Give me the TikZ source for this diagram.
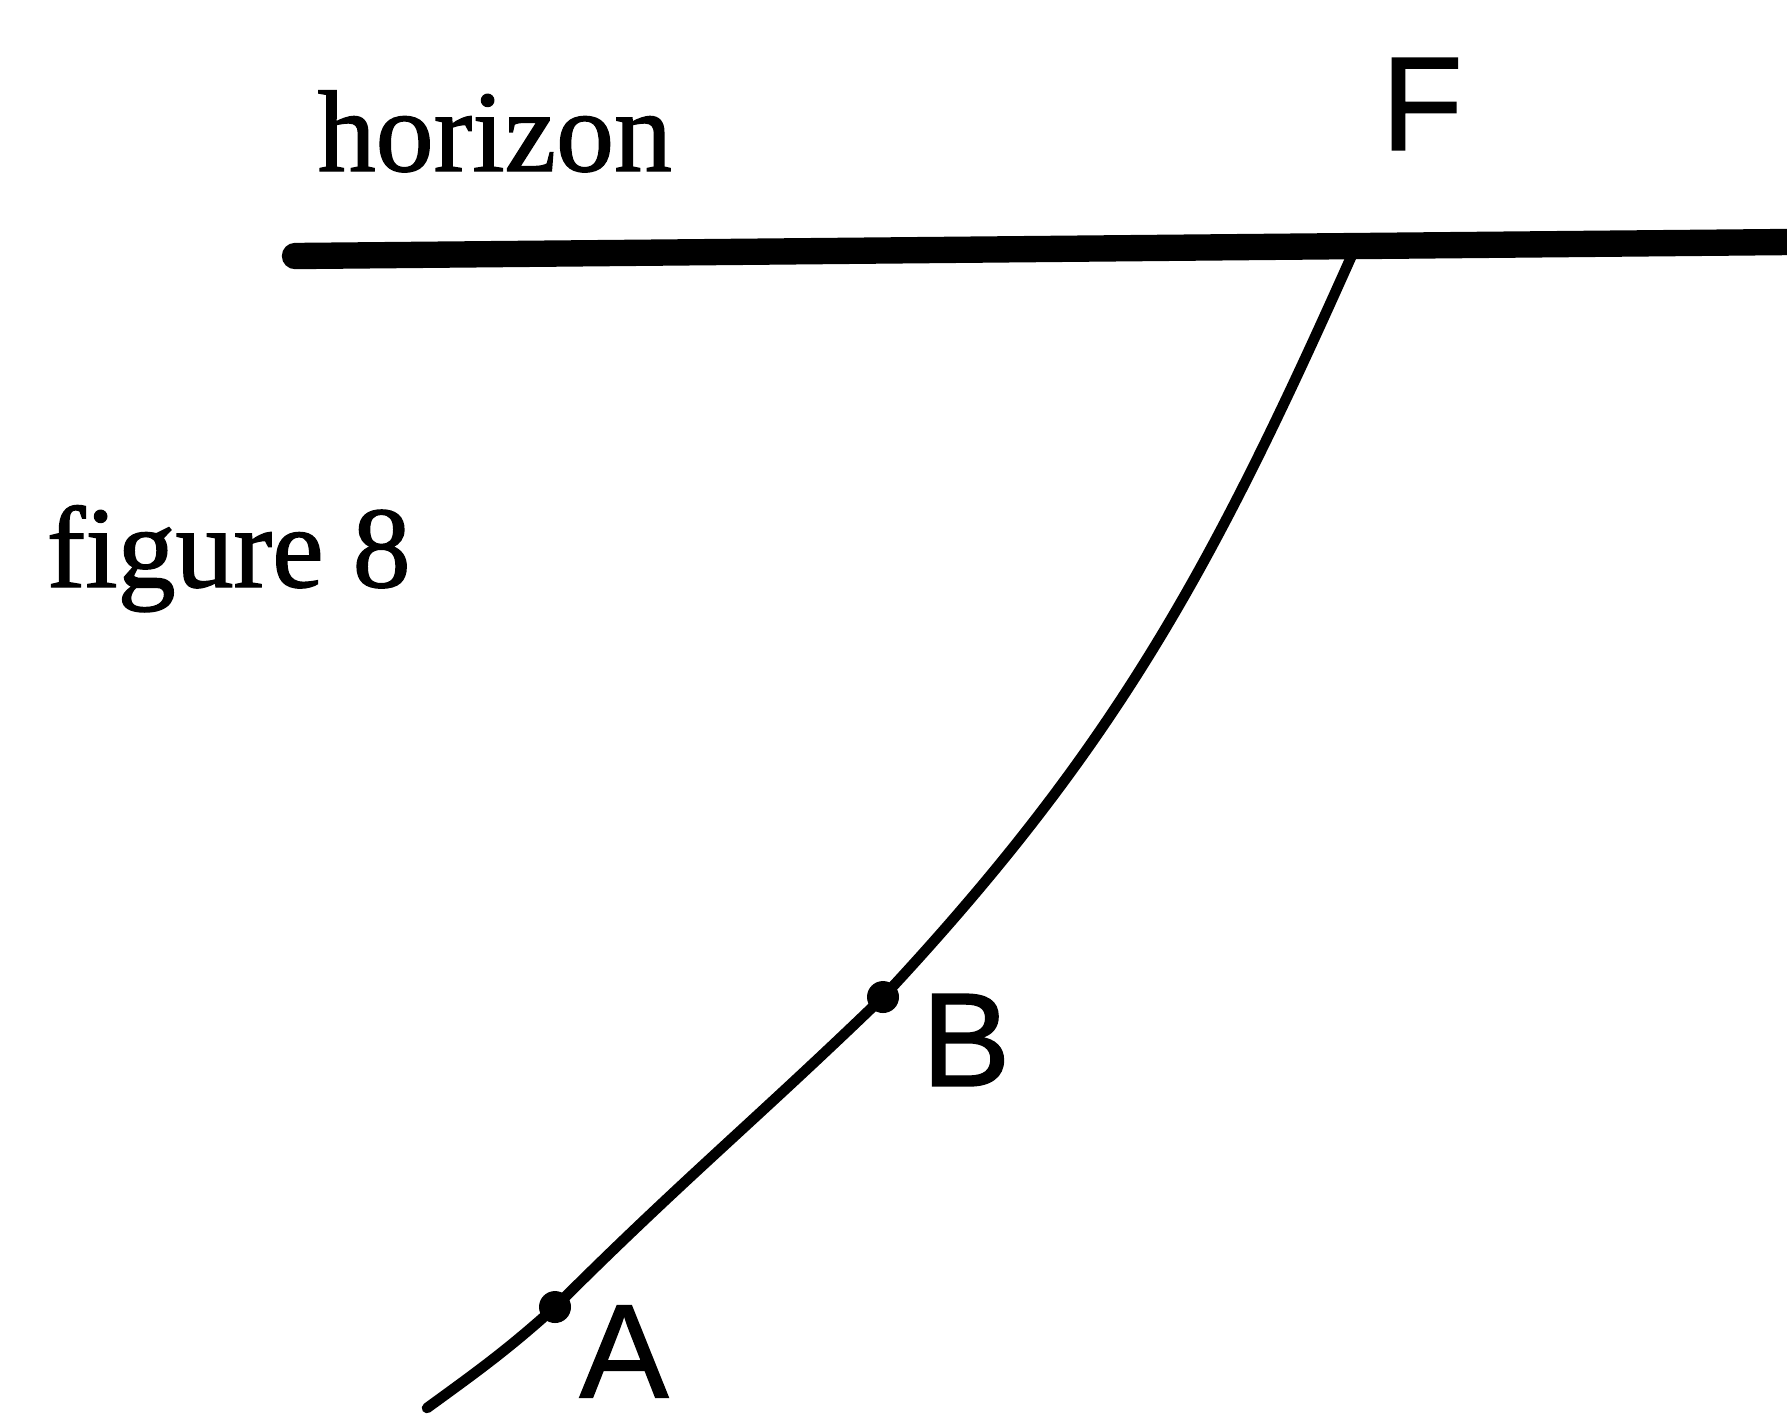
\documentclass[tikz,border=0pt]{standalone}
\usepackage{fontspec}
\newfontfamily\wordfont{Liberation Serif}[FakeBold=1.2]
\newfontfamily\letterfont{Liberation Sans}[FakeBold=1]
\usetikzlibrary{positioning}

\begin{document}
\begin{tikzpicture}[
    word/.style={font=\wordfont\fontsize{33}{40}\selectfont, inner sep=0pt, anchor=base west},
    letter/.style={font=\letterfont\fontsize{38}{44}\selectfont, inner sep=0pt},
    dot/.style={circle, fill=black, inner sep=0pt, minimum size=0.32cm},
    horizonline/.style={line width=7.5pt, line cap=round},
    trail/.style={line width=3pt, line cap=round}
]
    \useasboundingbox (0,0) rectangle (17.87,-14.13);

    \node[word] (horizon) at (3.17,-1.71) {horizon};
    \node[word] (caption) at (0.46,-5.87) {figure 8};

    \coordinate (hleft) at (2.95,-2.56);
    \coordinate (hright) at (17.87,-2.42);
    \coordinate (F) at (13.56,-2.46);
    \node[dot] (B) at (8.83,-9.97) {};
    \node[dot] (A) at (5.55,-13.07) {};
    \coordinate (tail) at (4.27,-14.08);

    \node[letter] (Flbl) at (14.22,-1.04) {F};
    \node[letter] (Blbl) at (9.66,-10.40) {B};
    \node[letter, anchor=south] (Albl) at (6.24,-13.98) {A};

    \draw[horizonline] (hleft) -- (hright);
    \draw[trail] (F) to[out=246, in=47] (B.center)
        to[out=224, in=45] (A.center)
        to[out=222, in=36] (tail);
\end{tikzpicture}
\end{document}
